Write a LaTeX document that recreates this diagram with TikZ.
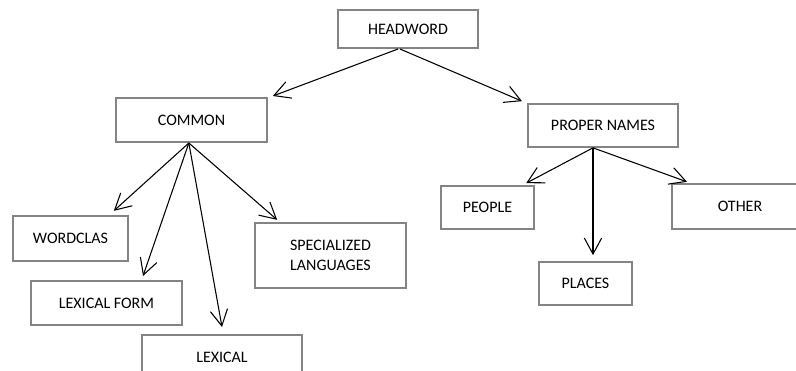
\documentclass[tikz,border=0pt]{standalone}
\usepackage{fontspec}
\setmainfont{Carlito}
\usetikzlibrary{arrows.meta}
\definecolor{boxgray}{RGB}{132,132,132}

\begin{document}
\begin{tikzpicture}[x=0.75pt, y=-0.75pt,
    box/.style={draw=boxgray, line width=1.5pt, fill=white, inner sep=0pt,
                align=center, font=\fontsize{12}{15}\selectfont},
    link/.style={line width=0.8pt, -{Straight Barb[length=12pt, width=13pt]}}]
            % Page frame
            \clip (0,0) rectangle (796,371);
            
            % Top level
            \node[box, minimum width=105pt, minimum height=28.5pt] (headword) at (408,29) {HEADWORD};
            
            \node[box, minimum width=113pt, minimum height=33pt] (common) at (191.5,120) {COMMON};
            \node[box, minimum width=112.5pt, minimum height=32pt] (proper) at (603,125.5) {PROPER NAMES};
            
            % Common words
            \node[box, minimum width=86pt, minimum height=34pt] (wordclas) at (70.5,238.5) {WORDCLAS};
            \node[box, minimum width=113pt, minimum height=33pt] (lexform) at (106.5,303) {LEXICAL FORM};
            \node[box, minimum width=120pt, minimum height=33pt] (lexical) at (222,357) {LEXICAL};
            \node[box, minimum width=113pt, minimum height=49pt] (special) at (330.5,255.5) {SPECIALIZED\\LANGUAGES};
            
            % Proper names
            \node[box, minimum width=70pt, minimum height=32pt] (people) at (487.5,207.5) {PEOPLE};
            \node[box, minimum width=70pt, minimum height=32pt] (places) at (585.5,283.5) {PLACES};
            \node[box, minimum width=102pt, minimum height=34pt] (other) at (740,206.5) {OTHER};
            
            % Arrows
            \draw[link] ([xshift=-7.5pt]headword.south) -- ([shift={(5,-1)}]common.north east);
            \draw[link] ([xshift=-6pt]headword.south) -- ([shift={(-5,-2)}]proper.north west);
            
            \draw[link] ([xshift=-2pt]common.south) -- ([shift={(-15,-4)}]wordclas.north east);
            \draw[link] ([xshift=-2pt]common.south) -- ([shift={(36.5,-4)}]lexform.north);
            \draw[link] ([xshift=-2pt]common.south) -- ([shift={(0,-7)}]lexical.north);
            \draw[link] ([xshift=-2pt]common.south) -- ([shift={(23,-2)}]special.north west);
            
            \draw[link] ([xshift=-7.5pt]proper.south) -- ([shift={(-9,-2)}]people.north east);
            \draw[link] ([xshift=-7.5pt]proper.south) -- ([shift={(7.5,-6)}]places.north);
            \draw[link] ([xshift=-7.5pt]proper.south) -- ([shift={(16,-1)}]other.north west);
        \end{tikzpicture}
\end{document}
